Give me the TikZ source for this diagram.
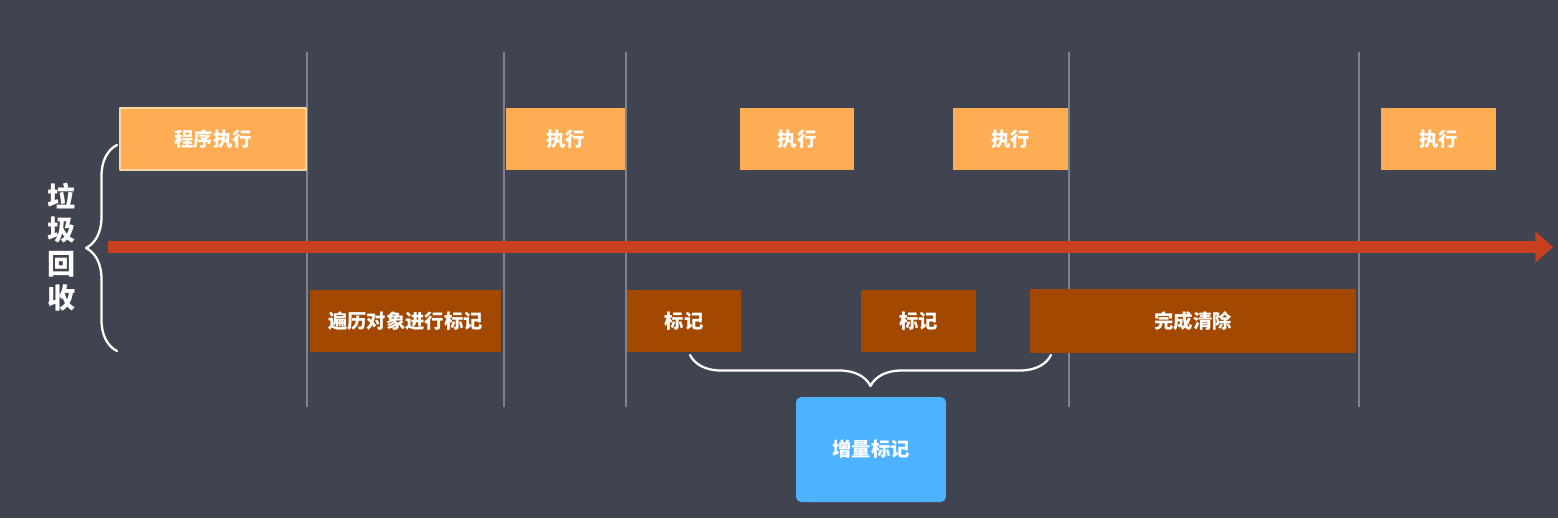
\documentclass[tikz,border=0pt]{standalone}
\usepackage{fontspec}
\setmainfont{Noto Sans CJK SC}
\usetikzlibrary{arrows.meta}
\usetikzlibrary{decorations.pathreplacing}
\definecolor{bgc}{RGB}{64,67,80}
\definecolor{runc}{RGB}{255,173,85}
\definecolor{runedge}{RGB}{255,214,160}
\definecolor{markc}{RGB}{163,72,0}
\definecolor{timec}{RGB}{200,64,30}
\definecolor{incc}{RGB}{77,178,255}
\definecolor{sepc}{RGB}{128,131,140}
\tikzset{
runbox/.style={fill=runc, inner sep=0pt, minimum height=1.24cm, text=white,
 font=\fontsize{11}{12}\selectfont\bfseries},
markbox/.style={fill=markc, inner sep=0pt, minimum height=1.24cm, text=white,
 font=\fontsize{11}{12}\selectfont\bfseries},
wbrace/.style={draw=white, line width=1.3pt, line cap=round,
 decorate, decoration={brace, amplitude=#1}}
}
\begin{document}
\begin{tikzpicture}[line cap=round,line join=round,x=0.02cm,y=-0.02cm]
% nen
\fill[bgc] (0,0) rectangle (1558,518);
\useasboundingbox (0,0) rectangle (1558,518);
% cac duong chia
\foreach \x in {307,504,626,1069,1359}
\draw[sepc, line width=0.6pt, line cap=butt] (\x,52) -- (\x,407);
% truc thoi gian
\coordinate (t0) at (108,247);
\coordinate (t1) at (1553,247);
\draw[timec, line width=6.3pt, line cap=butt,
 -{Triangle[length=10pt,width=17pt]}] (t0) -- (t1);
% cac khoi chay chuong trinh
\node[runbox, minimum width=3.72cm, draw=runedge, line width=0.8pt] (run0) at (213,139) {程序执行};
\node[runbox, minimum width=2.38cm] (run1) at (565.5,139) {执行};
\node[runbox, minimum width=2.28cm] (run2) at (797,139) {执行};
\node[runbox, minimum width=2.30cm] (run3) at (1010.5,139) {执行};
\node[runbox, minimum width=2.30cm] (run4) at (1438.5,139) {执行};
% cac khoi danh dau
\node[markbox, minimum width=3.82cm] (mark0) at (405.5,321) {遍历对象进行标记};
\node[markbox, minimum width=2.28cm] (mark1) at (684,321) {标记};
\node[markbox, minimum width=2.30cm] (mark2) at (918.5,321) {标记};
\node[markbox, minimum width=6.52cm, minimum height=1.28cm] (sweep) at (1193,321) {完成清除};
% nhan ben trai
\node[text=white, align=center, font=\fontsize{16}{19.2}\selectfont\bfseries] (gc) at (62,247) {垃\\圾\\回\\收};
\coordinate (lb0) at (117,351);
\coordinate (lb1) at (117,145);
\draw[wbrace=0.62cm] (lb0) -- (lb1);
% tang dan
\node[fill=incc, rounded corners=3pt, minimum width=3.0cm, minimum height=2.1cm,
 text=white, font=\fontsize{11}{12}\selectfont\bfseries] (inc) at (871,449.5) {增量标记};
\coordinate (bb0) at (1051,355);
\coordinate (bb1) at (690,355);
\draw[wbrace=0.62cm] (bb0) -- (bb1);
\end{tikzpicture}
\end{document}
